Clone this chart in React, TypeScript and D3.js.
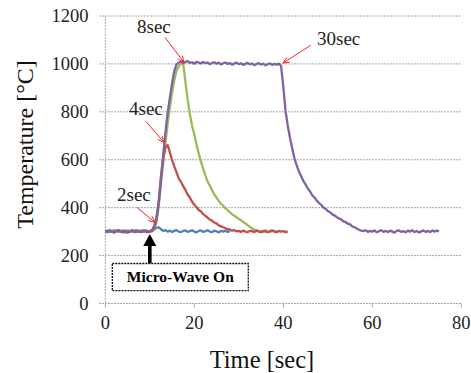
import React from "react";
import * as d3 from "d3";

type Pt = [number, number];

const xTicks = [0, 20, 40, 60, 80];
const yTicks = [0, 200, 400, 600, 800, 1000, 1200];

const series2sec: Pt[] = [
  [0, 303], [1, 299], [2, 305], [3, 301], [4, 297], [5, 304], [6, 300], [7, 306], [8, 298], [9, 302], [10, 300],
  [10.5, 304], [11, 309], [11.5, 316], [12, 318], [12.5, 310], [13, 303], [13.5, 306], [14, 300], [14.5, 304],
  [15, 299], [15.5, 303], [16, 306], [16.5, 300], [17, 298], [17.5, 303], [18, 305], [18.5, 299], [19, 302],
  [19.5, 306], [20, 300], [20.5, 297], [21, 303], [21.5, 305], [22, 299], [22.5, 302], [23, 306], [23.5, 300],
  [24, 298], [24.5, 304], [25, 301], [25.5, 297], [26, 303], [26.5, 300], [27, 304], [27.5, 299], [28, 302],
];

const series4sec: Pt[] = [
  [0, 301], [1, 305], [2, 298], [3, 303], [4, 300], [5, 296], [6, 304], [7, 301], [8, 299], [9, 305], [10, 300],
  [10.5, 303], [11, 316], [11.5, 350], [12, 425], [12.5, 525], [13, 605], [13.5, 650], [14, 662], [14.5, 632],
  [15, 598], [15.5, 572], [16, 548], [16.5, 522], [17, 508], [17.5, 490], [18, 474], [18.5, 455], [19, 442],
  [19.5, 425], [20, 412], [20.5, 402], [21, 390], [21.5, 384], [22, 373], [22.5, 366], [23, 358], [23.5, 350],
  [24, 346], [24.5, 338], [25, 334], [25.5, 326], [26, 322], [26.5, 318], [27, 314], [27.5, 310], [28, 309],
  [28.5, 304], [29, 306], [29.5, 301], [30, 303], [30.5, 299], [31, 304], [31.5, 300], [32, 298], [32.5, 303],
  [33, 302], [33.5, 298], [34, 305], [34.5, 300], [35, 298], [35.5, 303], [36, 301], [36.5, 297], [37, 302],
  [37.5, 305], [38, 300], [38.5, 298], [39, 303], [39.5, 300], [40, 302], [40.5, 298], [41, 301],
];

const series8sec: Pt[] = [
  [0, 300], [1, 304], [2, 299], [3, 302], [4, 306], [5, 298], [6, 303], [7, 300], [8, 305], [9, 299], [10, 302],
  [10.5, 301], [11, 310], [11.5, 340], [12, 405], [12.5, 495], [13, 585], [13.5, 668], [14, 748], [14.5, 818],
  [15, 878], [15.5, 932], [16, 970], [16.5, 990], [17, 1000], [17.5, 1004], [18, 925], [18.5, 852], [19, 792],
  [19.5, 742], [20, 705], [20.5, 664], [21, 626], [21.5, 592], [22, 562], [22.5, 534], [23, 508], [23.5, 492],
  [24, 472], [24.5, 455], [25, 442], [25.5, 428], [26, 416], [26.5, 408], [27, 397], [27.5, 390], [28, 381],
  [28.5, 372], [29, 366], [29.5, 360], [30, 353], [30.5, 348], [31, 340], [31.5, 334], [32, 326], [32.5, 320],
  [33, 313], [33.5, 309], [34, 305], [34.5, 301], [35, 302], [35.5, 298], [36, 306], [36.5, 300], [37, 299],
  [37.5, 304], [38, 303], [38.5, 298], [39, 301],
];

const series30sec: Pt[] = [
  [0, 302], [0.5, 298], [1, 305], [1.5, 300], [2, 296], [2.5, 303], [3, 307], [3.5, 299], [4, 301], [4.5, 304],
  [5, 297], [5.5, 302], [6, 306], [6.5, 298], [7, 300], [7.5, 303], [8, 299], [8.5, 305], [9, 301], [9.5, 297],
  [10, 303], [10.5, 306], [11, 326], [11.5, 360], [12, 420], [12.5, 520], [13, 620], [13.5, 710], [14, 795],
  [14.5, 858], [15, 918], [15.5, 970], [16, 998], [16.5, 1005], [17, 1010], [17.5, 1003], [18, 1008], [18.5, 1012],
  [19, 1004], [19.5, 1007], [20, 1001], [20.5, 1009], [21, 1005], [21.5, 1002], [22, 1008], [22.5, 1003],
  [23, 1006], [23.5, 999], [24, 1004], [24.5, 1007], [25, 1001], [25.5, 1005], [26, 998], [26.5, 1003],
  [27, 1006], [27.5, 1000], [28, 1004], [28.5, 997], [29, 1002], [29.5, 1005], [30, 999], [30.5, 1003],
  [31, 996], [31.5, 1001], [32, 1004], [32.5, 998], [33, 1002], [33.5, 995], [34, 1000], [34.5, 1003],
  [35, 997], [35.5, 1001], [36, 994], [36.5, 999], [37, 1002], [37.5, 996], [38, 1000], [38.5, 997],
  [39, 1001], [39.5, 992], [40, 905], [40.5, 805], [41, 742], [41.5, 692], [42, 648], [42.5, 606], [43, 578],
  [43.5, 552], [44, 532], [44.5, 512], [45, 497], [45.5, 480], [46, 468], [46.5, 452], [47, 443], [47.5, 430],
  [48, 420], [48.5, 412], [49, 401], [49.5, 395], [50, 386], [50.5, 381], [51, 372], [51.5, 368], [52, 361],
  [52.5, 355], [53, 351], [53.5, 343], [54, 340], [54.5, 333], [55, 330], [55.5, 322], [56, 318], [56.5, 313],
  [57, 308], [57.5, 304], [58, 302], [58.5, 306], [59, 299], [59.5, 303], [60, 300], [60.5, 305], [61, 297],
  [61.5, 302], [62, 306], [62.5, 299], [63, 303], [63.5, 298], [64, 304], [64.5, 300], [65, 296], [65.5, 303],
  [66, 305], [66.5, 299], [67, 302], [67.5, 297], [68, 304], [68.5, 300], [69, 306], [69.5, 298], [70, 303],
  [70.5, 296], [71, 301], [71.5, 305], [72, 299], [72.5, 303], [73, 298], [73.5, 305], [74, 300], [74.5, 304],
  [75, 301],
];

const seriesColors = ["#4F81BD", "#9BBB59", "#C0504D", "#8064A2"];
const seriesList = [series2sec, series8sec, series4sec, series30sec];

const annoLabels = ["2sec", "4sec", "8sec", "30sec"];
const annoTips: Pt[] = [[11.2, 338], [13.2, 672], [17.7, 1006], [39.9, 1003]];

const FONT = "'Liberation Serif', 'Times New Roman', Times, serif";

export default function App() {
  const W = 471, H = 373;
  const x = d3.scaleLinear().domain([0, 80]).range([105.3, 461.3]);
  const y = d3.scaleLinear().domain([0, 1200]).range([303.5, 16]);
  const line = d3.line<Pt>().x((d) => x(d[0])).y((d) => y(d[1]));
  const ts = { fontFamily: FONT };

  const annoLayout = [
    { tx: 117, ty: 200.7, sx: -18, sy: -15 },
    { tx: 129, ty: 114.5, sx: -18, sy: -21 },
    { tx: 137, ty: 32.5, sx: -19, sy: -25 },
    { tx: 317, ty: 44.5, sx: 28, sy: -18 },
  ];

  const mwX = x(10);
  return (
    <svg width={W} height={H} style={{ position: "absolute", left: 0, top: 0, background: "#fff" }}>
      {yTicks.map((t) => (
        <line key={"g" + t} x1={99} x2={461.5} y1={y(t)} y2={y(t)}
          stroke="#a8a8a8" strokeWidth={1} strokeDasharray="2,1" />
      ))}
      <line x1={x(0)} x2={x(0)} y1={y(1200)} y2={y(0)} stroke="#a8a8a8" strokeWidth={1} strokeDasharray="2,1" />
      {xTicks.map((t) => (
        <line key={"xt" + t} x1={x(t)} x2={x(t)} y1={y(0)} y2={y(0) + 4} stroke="#a8a8a8" strokeWidth={1} />
      ))}
      {yTicks.map((t) => (
        <text key={"yl" + t} x={88.5} y={y(t) + 6.3} textAnchor="end" style={ts} fontSize={18.5} fill="#222">{t}</text>
      ))}
      {xTicks.map((t) => (
        <text key={"xl" + t} x={x(t)} y={328.5} textAnchor="middle" style={ts} fontSize={18.5} fill="#222">{t}</text>
      ))}
      <text x={262} y={367.5} textAnchor="middle" style={ts} fontSize={24.5} fill="#111">Time [sec]</text>
      <text transform="translate(33,144.5) rotate(-90)" textAnchor="middle" style={ts} fontSize={24} fill="#111">Temperature [°C]</text>

      {seriesList.map((s, i) => (
        <path key={"s" + i} d={line(s) || ""} fill="none" stroke={seriesColors[i]} strokeWidth={2.3} strokeLinejoin="round" />
      ))}

      {annoLabels.map((lab, i) => {
        const tipX = x(annoTips[i][0]);
        const tipY = y(annoTips[i][1]);
        const L = annoLayout[i];
        const sx = tipX + L.sx, sy = tipY + L.sy;
        const ang = Math.atan2(tipY - sy, tipX - sx);
        const hl = 7, ha = 0.4;
        const h1 = [tipX - hl * Math.cos(ang - ha), tipY - hl * Math.sin(ang - ha)];
        const h2 = [tipX - hl * Math.cos(ang + ha), tipY - hl * Math.sin(ang + ha)];
        return (
          <g key={"a" + i}>
            <text x={L.tx} y={L.ty} style={ts} fontSize={19} fill="#222">{lab}</text>
            <line x1={sx} y1={sy} x2={tipX} y2={tipY} stroke="#ff2020" strokeWidth={1} />
            <polyline points={`${h1[0]},${h1[1]} ${tipX},${tipY} ${h2[0]},${h2[1]}`} fill="none" stroke="#ff2020" strokeWidth={1} />
          </g>
        );
      })}

      <polygon points={`${mwX},${234} ${mwX - 6.5},${246} ${mwX + 6.5},${246}`} fill="#000" />
      <rect x={mwX - 1.8} y={245} width={3.6} height={18.5} fill="#000" />
      <rect x={112.3} y={263.5} width={136} height={27.2} fill="#fff" stroke="#111" strokeWidth={1.3} strokeDasharray="2,1" />
      <text x={180.3} y={282} textAnchor="middle" style={ts} fontSize={15.5} fontWeight="bold" fill="#000">Micro-Wave On</text>
    </svg>
  );
}
